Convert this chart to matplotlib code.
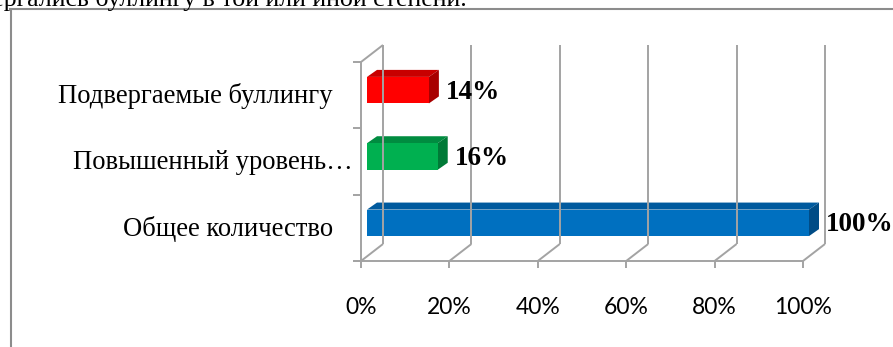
import matplotlib.pyplot as plt
from matplotlib.transforms import IdentityTransform
from matplotlib.patches import Polygon, Rectangle
from matplotlib.lines import Line2D

# данные диаграммы (снизу вверх)
categories = ["Общее количество", "Повышенный уровень…", "Подвергаемые буллингу"]
values = [100, 16, 14]
value_labels = ["100%", "16%", "14%"]
ticks = [0, 20, 40, 60, 80, 100]
tick_labels = ["0%", "20%", "40%", "60%", "80%", "100%"]
caption = "подвергались буллингу в той или иной степени."

front_colors = ["#0070C0", "#00B050", "#FF0000"]
top_colors = ["#005A9E", "#008C40", "#C80000"]
side_colors = ["#004C86", "#007A37", "#A80000"]

W, H, DPI = 893, 347, 100
GRID = "#a3a3a3"
DEPTH = (22, 17)      # сдвиг задней стенки, px
BAR_OFF = (6, 5)      # сдвиг передней грани столбца
BAR_DEPTH = (10, 7)   # глубина столбца
BAR_H = 0.4

fig = plt.figure(figsize=(W / DPI, H / DPI), dpi=DPI)
ax = fig.add_axes([361 / W, (H - 261) / H, 442 / W, 199 / H])
ax.set_xlim(0, 100)
ax.set_ylim(-0.5, len(categories) - 0.5)
ax.axis("off")
fig.canvas.draw()

ident = IdentityTransform()


def px(x, y, dx=0, dy=0):
    p = ax.transData.transform((x, y))
    return (p[0] + dx, p[1] + dy)


def seg(p0, p1, **kw):
    fig.add_artist(Line2D([p0[0], p1[0]], [p0[1], p1[1]], transform=ident,
                          color=GRID, lw=1.4, solid_capstyle="butt", **kw))


y0, y1 = -0.5, len(categories) - 0.5
dx, dy = DEPTH

# задняя стенка и пол
for t in ticks:
    seg(px(t, y0, dx, dy), px(t, y1, dx, dy))
    seg(px(t, y0), px(t, y0, dx, dy))
# левая стенка
seg(px(0, y0), px(0, y1))
seg(px(0, y1), px(0, y1, dx, dy))
# передняя ось и деления
seg(px(0, y0, -8), px(100, y0))
for t in ticks:
    seg(px(t, y0), px(t, y0, 0, -7))
for k in range(len(categories) + 1):
    yy = y0 + k
    seg(px(0, yy, -8), px(0, yy))

# подписи шкалы
for t, lab in zip(ticks, tick_labels):
    p = px(t, y0, 0, -47)
    fig.text(p[0] / W, p[1] / H, lab, ha="center", va="center",
             fontsize=16.5, family="Lato", color="#000000")

# объёмные столбцы
ox, oy = BAR_OFF
bx, by = BAR_DEPTH
for i, (v, lab) in enumerate(zip(values, value_labels)):
    bl = px(0, i - BAR_H / 2, ox, oy)
    tr = px(v, i + BAR_H / 2, ox, oy)
    tl = (bl[0], tr[1])
    br = (tr[0], bl[1])
    fig.add_artist(Polygon([tl, tr, (tr[0] + bx, tr[1] + by), (tl[0] + bx, tl[1] + by)],
                           closed=True, transform=ident, fc=top_colors[i], ec="none"))
    fig.add_artist(Polygon([br, tr, (tr[0] + bx, tr[1] + by), (br[0] + bx, br[1] + by)],
                           closed=True, transform=ident, fc=side_colors[i], ec="none"))
    fig.add_artist(Rectangle(bl, tr[0] - bl[0], tr[1] - bl[1], transform=ident,
                             fc=front_colors[i], ec="none"))
    p = px(v, i, ox + bx + 7, 3)
    fig.text(p[0] / W, p[1] / H, lab, ha="left", va="center", fontsize=19.5,
             family="Liberation Serif", weight="bold")

# подписи категорий (многоточие обрезанной подписи заходит в отступ)
for i, name in enumerate(categories):
    shift = 20 if name.endswith("…") else 0
    p = px(0, i, -28 + shift, -1)
    fig.text(p[0] / W, p[1] / H, name, ha="right", va="center", fontsize=19.2,
             family="Liberation Serif")

# рамка области диаграммы
fig.add_artist(Line2D([10.5, 10.5], [0, H - 9], transform=ident, color="#8c8c8c", lw=1.5))
fig.add_artist(Line2D([10, W], [H - 9, H - 9], transform=ident, color="#8c8c8c", lw=1.5))

# обрезанная строка текста над диаграммой
fig.text(467 / W, (H - 6) / H, caption, ha="right", va="baseline", fontsize=18.6,
         family="Liberation Serif")

fig.savefig("out.png", dpi=DPI)
